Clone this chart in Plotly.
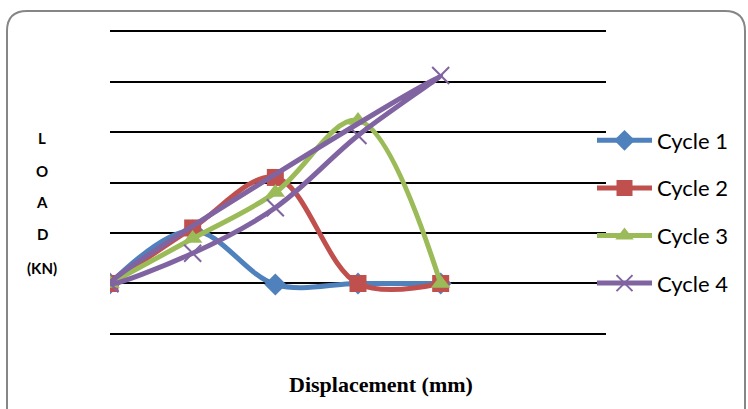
import plotly.graph_objects as go

# Data (displacement steps, load in gridline units)
displacement = [0, 1, 2, 3, 4]
cycle1 = [0, 1.05, -0.02, 0, 0]
cycle2 = [0, 1.1, 2.1, 0, 0]
cycle3 = [0, 0.89, 1.8, 3.23, 0]
cycle4_x = [0, 1, 2, 3, 4, 0]
cycle4 = [0, 0.6, 1.5, 2.93, 4.12, 0]

W, H = 748, 409
L, R, T, B = 110, 142, 30, 74
PW, PH = W - L - R, H - T - B

def px(x):
    return (x - L) / PW

def py(y):
    return (H - B - y) / PH

fig = go.Figure()
fig.add_trace(go.Scatter(x=displacement, y=cycle1, name="Cycle 1", mode="lines+markers",
                         line=dict(color="#4F81BD", width=5, shape="spline"),
                         marker=dict(symbol="diamond", size=17, color="#4F81BD")))
fig.add_trace(go.Scatter(x=displacement, y=cycle2, name="Cycle 2", mode="lines+markers",
                         line=dict(color="#C0504D", width=5, shape="spline"),
                         marker=dict(symbol="square", size=17, color="#C0504D")))
fig.add_trace(go.Scatter(x=displacement, y=cycle3, name="Cycle 3", mode="lines+markers",
                         line=dict(color="#9BBB59", width=5, shape="spline"),
                         marker=dict(symbol="triangle-up", size=17, color="#9BBB59")))
fig.add_trace(go.Scatter(x=cycle4_x, y=cycle4, name="Cycle 4", mode="lines+markers",
                         line=dict(color="#8064A2", width=5, shape="spline"),
                         marker=dict(symbol="x-thin", size=17,
                                     line=dict(color="#8064A2", width=2), color="#8064A2")))

path = (f"M {px(7)} {py(440)} L {px(7)} {py(31)} Q {px(7)} {py(11)} {px(27)} {py(11)} "
        f"L {px(725)} {py(11)} Q {px(745)} {py(11)} {px(745)} {py(31)} L {px(745)} {py(440)}")

annotations = []
for txt, yy in [("L", 138), ("O", 171), ("A", 202), ("D", 234), ("(KN)", 268)]:
    annotations.append(dict(text=txt, x=px(42), y=py(yy), xref="paper", yref="paper",
                            showarrow=False, xanchor="center", yanchor="middle",
                            font=dict(family="Lato", size=15, color="black", weight="bold")))
annotations.append(dict(text="<b>Displacement (mm)</b>", x=px(381), y=py(384), xref="paper",
                        yref="paper", showarrow=False, xanchor="center", yanchor="middle",
                        font=dict(family="Liberation Serif", size=22, color="black")))

fig.update_layout(
    width=W, height=H,
    margin=dict(l=L, r=R, t=T, b=B),
    paper_bgcolor="white", plot_bgcolor="white",
    showlegend=True,
    legend=dict(x=px(592), y=py(212), xanchor="left", yanchor="middle",
                font=dict(family="Lato", size=22, color="black"),
                traceorder="grouped", tracegroupgap=16, itemwidth=55,
                bgcolor="rgba(0,0,0,0)"),
    xaxis=dict(range=[0, 6], showgrid=False, zeroline=False, showticklabels=False,
               showline=False, ticks=""),
    yaxis=dict(range=[-1.02, 5.02], dtick=1, tick0=0, showgrid=True, gridcolor="black",
               gridwidth=2, zeroline=False, showticklabels=False, showline=False, ticks=""),
    shapes=[dict(type="path", path=path, xref="paper", yref="paper",
                 line=dict(color="#868686", width=2), layer="below")],
    annotations=annotations,
)
for i, tr in enumerate(fig.data):
    tr.legendgroup = f"g{i}"

fig.write_html("out.html")
